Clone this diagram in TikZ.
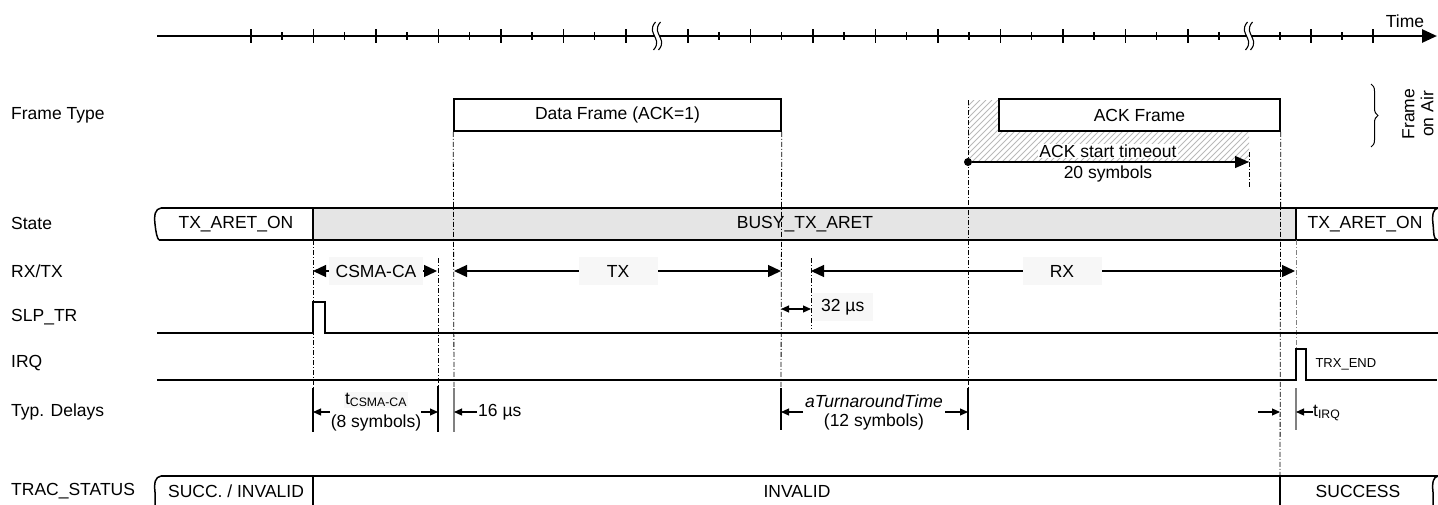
\documentclass[tikz,border=0pt]{standalone}
\usepackage{fontspec}
\setmainfont{Liberation Sans}
\usetikzlibrary{arrows.meta,decorations.pathreplacing}

\tikzset{
  rowlabel/.style={anchor=west,inner sep=0pt},
  bar/.style={line width=1.5pt},
  sig/.style={line width=1.5pt},
  tick/.style={line width=1.4pt},
  guide/.style={line width=0.8pt,dash pattern=on 5pt off 2pt on 1pt off 2pt},
  delaymark/.style={line width=1.1pt},
  framebox/.style={draw,line width=1.5pt,fill=white,minimum height=32pt,inner sep=0pt},
  tagbox/.style={fill=gray!6,minimum height=28pt,minimum width=79pt,inner xsep=7pt},
  span/.style={line width=1.3pt,{Triangle[length=13pt,width=12pt]}-{Triangle[length=13pt,width=12pt]}},
  spanto/.style={line width=1.3pt,-{Triangle[length=14pt,width=12pt]}},
  dly/.style={line width=1.1pt,-{Triangle[length=8pt,width=7pt]}},
  dlyboth/.style={line width=1.1pt,{Triangle[length=8pt,width=7pt]}-{Triangle[length=8pt,width=7pt]}},
  small/.style={font=\fontsize{13}{15}\selectfont},
}

\begin{document}
\begin{tikzpicture}[x=1pt,y=-1pt,font=\fontsize{17.5}{20}\selectfont]
\useasboundingbox (0,0) rectangle (1438,504);

% time axis
\draw[line width=2.7pt,-{Triangle[length=15pt,width=13pt]}] (157,36) -- (1437,36);
\node (time) at (1405,21) {Time};
\foreach \k in {0,...,6} \draw[tick] ({251+62.5*\k},29) -- ++(0,14);
\foreach \k in {0,...,5} \draw[tick] ({282+62.5*\k},32) -- ++(0,8);
\foreach \k in {0,...,8} \draw[tick] ({688+62.5*\k},29) -- ++(0,14);
\foreach \k in {0,...,8} \draw[tick] ({719+62.5*\k},32) -- ++(0,8);
\foreach \x in {1311,1373} \draw[tick] (\x,29) -- ++(0,14);
\foreach \x in {1280,1342} \draw[tick] (\x,32) -- ++(0,8);
\foreach \bx in {657,1249}{
  \begin{scope}[shift={(\bx,0)}]
    \draw[white,line width=4pt] (1,22) .. controls (-5,29) and (-1,33) .. (0,36) .. controls (1,39) and (5,43) .. (-1,50);
    \draw[line width=1.1pt,xshift=-2.5pt] (1,22) .. controls (-5,29) and (-1,33) .. (0,36) .. controls (1,39) and (5,43) .. (-1,50);
    \draw[line width=1.1pt,xshift=2.5pt] (1,22) .. controls (-5,29) and (-1,33) .. (0,36) .. controls (1,39) and (5,43) .. (-1,50);
  \end{scope}
}

% row labels
\node[rowlabel] (lframe) at (11,115) {Frame Type};
\node[rowlabel] (lstate) at (11,223) {State};
\node[rowlabel] (lrxtx) at (11,271) {RX/TX};
\node[rowlabel] (lslp) at (11,317) {SLP\_TR};
\node[rowlabel] (lirq) at (11,363) {IRQ};
\node[rowlabel] (ldelay) at (11,412) {Typ. Delays};
\node[rowlabel] (ltrac) at (11,491) {TRAC\_STATUS};

% frames on air
\begin{scope}
  \clip (968,100) rectangle (1249,162);
  \foreach \i in {0,6,...,360}
    \draw[gray!55,line width=1pt] ({900+\i},162) -- ({962+\i},100);
\end{scope}
\node[framebox,minimum width=327pt] (dataframe) at (617.5,115) {Data Frame (ACK=1)};
\node[framebox,minimum width=281pt] (ackframe) at (1139.5,115) {ACK Frame};
\node[circle,fill,inner sep=0pt,minimum size=8pt] (tostart) at (968,162) {};
\coordinate (toend) at (1249,162);
\draw[spanto] (tostart) -- (toend);
\node[fill=white,inner sep=1pt] (timeout) at (1108,151) {ACK start timeout};
\node (tosym) at (1108,174) {20 symbols};
\draw[line width=1pt,decorate,decoration={brace,amplitude=7pt}] (1371,84) -- (1371,147);
\node[rotate=90,align=center,font=\fontsize{17.5}{19}\selectfont] (onair) at (1418,114) {Frame\\on Air};

% state bar
\fill[gray!20] (313,208) rectangle (1296,240);
\draw[bar] (161,208) -- (1438,208);
\draw[bar] (159,240) -- (1438,240);
\draw[bar] (313,208) -- (313,240);
\draw[bar] (1296,208) -- (1296,240);
\draw[bar] (161,208) .. controls (155,209) and (154,215) .. (155,224) .. controls (156,233) and (157,238) .. (159,240);
\draw[bar] (1438,208) .. controls (1433,209) and (1432,215) .. (1433,224) .. controls (1434,233) and (1433,238) .. (1437,240);
\node (stateA) at (236,224) {TX\_ARET\_ON};
\node (stateB) at (805,224) {BUSY\_TX\_ARET};
\node (stateC) at (1365,224) {TX\_ARET\_ON};

% guides
\draw[guide] (313,240) -- (313,388);
\draw[guide] (438,258) -- (438,386);
\draw[guide] (dataframe.south west) -- (454,388);
\draw[guide] (dataframe.south east) -- (781,388);
\draw[guide] (811,258) -- (811,329);
\draw[guide] (968,100) -- (968,388);
\draw[guide] (1249,152) -- (1249,187);
\draw[guide] (ackframe.south east) -- (1280,476);
\draw[guide,gray] (1296,240) -- (1296,349);

% RX/TX
\draw[span] (313,271) -- (437,271);
\node[tagbox,minimum width=0pt] (csma) at (376,271) {CSMA-CA};
\draw[span] (454,271) -- (781,271);
\node[tagbox] (tx) at (618,271) {TX};
\draw[span] (811,271) -- (1295,271);
\node[tagbox] (rx) at (1062,271) {RX};
\draw[dlyboth] (781,309) -- (811,309);
\node[tagbox,anchor=west,minimum width=61pt,inner xsep=4pt] (turn) at (812,307) {32 µs};

% SLP_TR and IRQ
\draw[sig] (157,333) -- (313,333) -- (313,302) -- (325,302) -- (325,333) -- (1438,333);
\draw[sig] (157,380) -- (1296,380) -- (1296,349) -- (1306,349) -- (1306,380) -- (1437,380);
\node[small,anchor=west] (trxend) at (1312,364) {TRX\_END};

% typical delays
\draw[delaymark] (313,388) -- (313,432);
\draw[delaymark] (438,386) -- (438,432);
\draw[delaymark,gray] (454,388) -- (454,432);
\draw[delaymark] (781,388) -- (781,430);
\draw[delaymark] (968,388) -- (968,430);
\draw[delaymark,gray] (1296,388) -- (1296,430);
\node[fill=gray!6,inner sep=1pt] (tcsma) at (376,400) {t\textsubscript{CSMA-CA}};
\node (csmasym) at (376,423) {(8 symbols)};
\draw[dly] (330,412) -- (313,412);
\draw[dly] (421,412) -- (438,412);
\draw[dly] (477,412) -- (454,412);
\node[anchor=west,inner sep=1pt] (d16) at (477,412) {16 µs};
\node (tat) at (874,401) {\itshape aTurnaroundTime};
\node (tatsym) at (874,422) {(12 symbols)};
\draw[dly] (803,412) -- (781,412);
\draw[dly] (945,412) -- (968,412);
\draw[dly] (1258,412) -- (1280,412);
\draw[dly] (1313,412) -- (1296,412);
\node[anchor=west,inner sep=1pt] (tirq) at (1312,413) {t\textsubscript{IRQ}};

% TRAC_STATUS bar
\draw[bar] (161,476) -- (1438,476);
\draw[bar] (313,476) -- (313,506);
\draw[bar] (1280,476) -- (1280,506);
\draw[bar] (161,476) .. controls (155,477) and (154,483) .. (155,492) -- (155,506);
\draw[bar] (1438,476) .. controls (1433,477) and (1432,483) .. (1433,492) -- (1433,506);
\node (tracA) at (236,491) {SUCC. / INVALID};
\node (tracB) at (797,491) {INVALID};
\node (tracC) at (1358,491) {SUCCESS};

\end{tikzpicture}
\end{document}
